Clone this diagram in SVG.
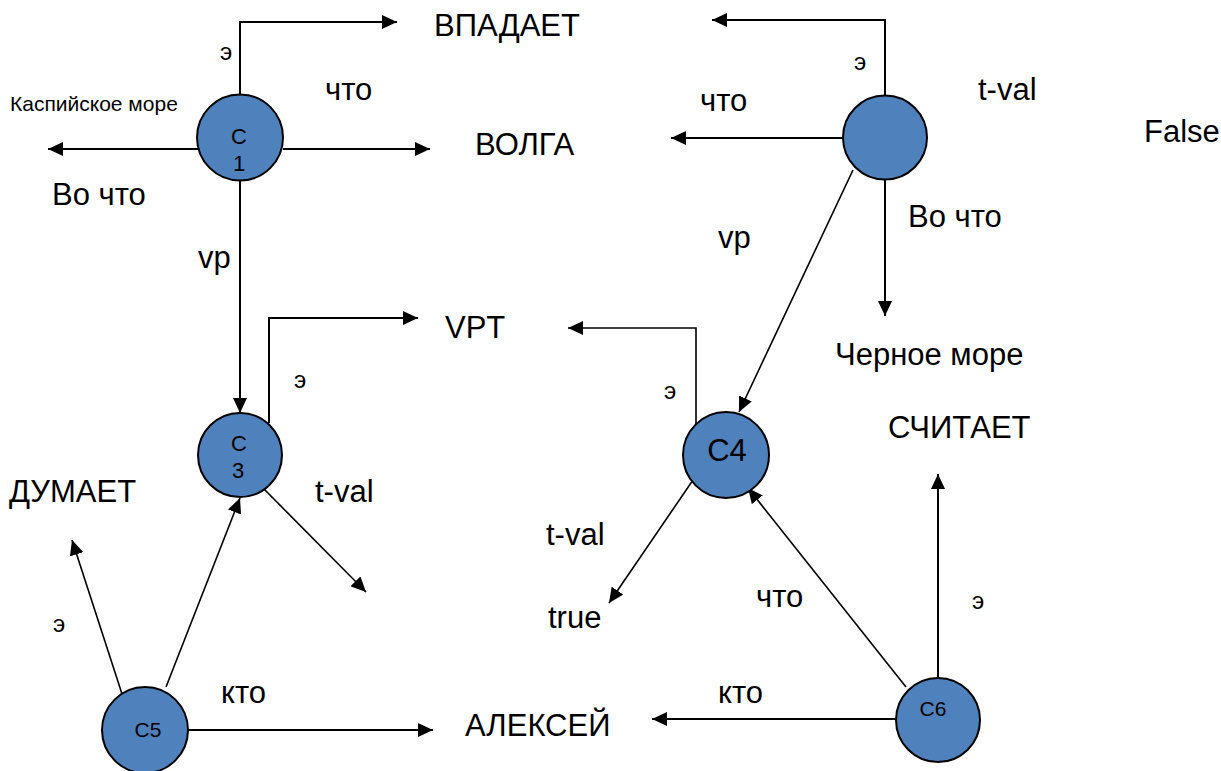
<svg xmlns="http://www.w3.org/2000/svg" width="1221" height="771" viewBox="0 0 1221 771">
  <style>
    .node { fill: #4F81BD; stroke: #000; stroke-width: 2; }
    .edge { fill: none; stroke: #000; stroke-width: 2; marker-end: url(#arrow); }
    .thin { stroke-width: 1.6; }
    text { font-family: "Liberation Sans", Arial, sans-serif; fill: #000; }
    .lbl { font-size: 31px; }
    .sm { font-size: 22px; }
    .e { font-size: 24px; }
    .xs { font-size: 21px; }
    .mid { text-anchor: middle; }
  </style>
  <defs>
    <marker id="arrow" markerUnits="userSpaceOnUse" markerWidth="16" markerHeight="14" refX="15" refY="7" orient="auto">
      <path d="M0,0 L15,7 L0,14 z" fill="#000"/>
    </marker>
  </defs>
  <rect width="1221" height="771" fill="#fff"/>

  <!-- connectors -->
  <g id="connectors">
    <!-- C1 -->
    <path class="edge" d="M240,95 V22 H397"/>
    <path class="edge" d="M283,149 H430"/>
    <path class="edge" d="M198,149 H48"/>
    <path class="edge" d="M240,180 V413"/>
    <!-- C3 -->
    <path class="edge" d="M269,423 V318 H418"/>
    <path class="edge thin" d="M262,487 L366,592"/>
    <!-- C5 -->
    <path class="edge thin" d="M123,697 L72,540"/>
    <path class="edge thin" d="M166,687 L240,498"/>
    <path class="edge" d="M188,730 H433"/>
    <!-- C2 -->
    <path class="edge" d="M885,95 V20 H712"/>
    <path class="edge" d="M843,138 H671"/>
    <path class="edge" d="M885,180 V316"/>
    <path class="edge thin" d="M853,170 L739,412"/>
    <!-- C4 -->
    <path class="edge thin" d="M696,425 V328 H568"/>
    <path class="edge thin" d="M693,480 L609,603"/>
    <!-- C6 -->
    <path class="edge thin" d="M906,687 L748,488"/>
    <path class="edge" d="M938,677 V474"/>
    <path class="edge" d="M896,719 H652"/>
  </g>

  <!-- nodes -->
  <g id="C1">
    <circle class="node" cx="240" cy="137.5" r="43"/>
    <text class="sm mid" x="239" y="144">C</text>
    <text class="sm mid" x="239" y="171">1</text>
  </g>
  <g id="C2">
    <circle class="node" cx="885" cy="137.5" r="42"/>
  </g>
  <g id="C3">
    <circle class="node" cx="240" cy="455" r="42"/>
    <text class="sm mid" x="239" y="451">C</text>
    <text class="sm mid" x="238" y="478">3</text>
  </g>
  <g id="C4">
    <circle class="node" cx="726" cy="455" r="43"/>
    <text class="lbl mid" x="727" y="461">C4</text>
  </g>
  <g id="C5">
    <circle class="node" cx="145" cy="730" r="43"/>
    <text class="xs mid" x="148" y="737">C5</text>
  </g>
  <g id="C6">
    <circle class="node" cx="938" cy="720" r="42"/>
    <text class="xs mid" x="933" y="716">C6</text>
  </g>

  <!-- labels -->
  <g id="labels">
    <text class="lbl" x="434" y="36">ВПАДАЕТ</text>
    <text class="lbl" x="325" y="100">что</text>
    <text class="e" x="220" y="60">э</text>
    <text class="xs" x="10" y="111">Каспийское море</text>
    <text class="lbl" x="475" y="155">ВОЛГА</text>
    <text class="lbl" x="52" y="205">Во что</text>
    <text class="lbl" x="198" y="268">vp</text>
    <text class="lbl" x="445" y="338">VPT</text>
    <text class="e" x="294" y="388">э</text>
    <text class="lbl" x="9" y="502">ДУМАЕТ</text>
    <text class="lbl" x="315" y="502">t-val</text>
    <text class="e" x="53" y="632">э</text>
    <text class="lbl" x="221" y="703">кто</text>
    <text class="lbl" x="465" y="736">АЛЕКСЕЙ</text>

    <text class="lbl" x="700" y="111">что</text>
    <text class="e" x="854" y="70">э</text>
    <text class="lbl" x="978" y="100">t-val</text>
    <text class="lbl" x="1144" y="142">False</text>
    <text class="lbl" x="908" y="227">Во что</text>
    <text class="lbl" x="718" y="248">vp</text>
    <text class="lbl" x="835" y="365">Черное море</text>
    <text class="lbl" x="888" y="438">СЧИТАЕТ</text>
    <text class="e" x="664" y="399">э</text>
    <text class="lbl" x="546" y="545">t-val</text>
    <text class="lbl" x="548" y="628">true</text>
    <text class="lbl" x="756" y="607">что</text>
    <text class="e" x="972" y="609">э</text>
    <text class="lbl" x="718" y="703">кто</text>
  </g>
</svg>
